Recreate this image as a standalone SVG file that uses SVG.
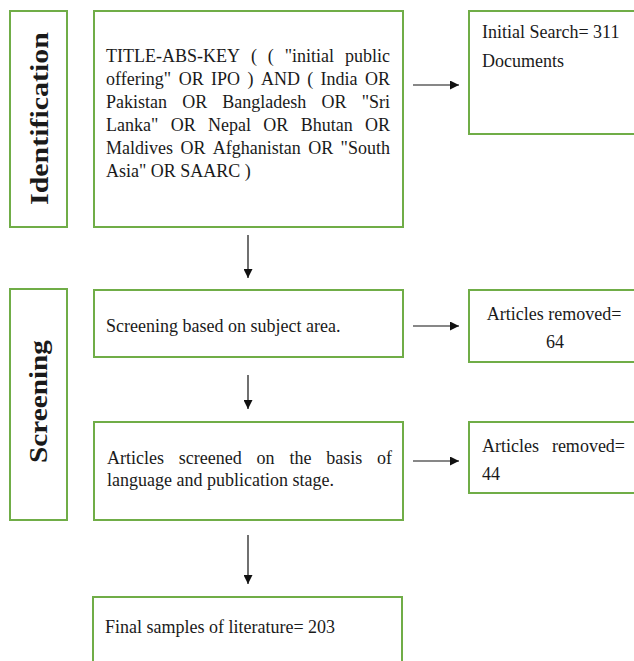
<svg xmlns="http://www.w3.org/2000/svg" width="634" height="661" viewBox="0 0 634 661">
<style>
.box{fill:#fff;stroke:#70AD47;stroke-width:2}
.t{font-family:"Liberation Serif","Times New Roman",serif;font-size:18px;fill:#1a1a1a}
.lab{font-family:"Liberation Serif","Times New Roman",serif;font-size:26px;font-weight:bold;fill:#1a1a1a}
.ar{stroke:#111;stroke-width:1.2;fill:none}
</style>
<defs>
<marker id="ah" viewBox="0 0 10 10" refX="10" refY="5" markerWidth="10" markerHeight="9" markerUnits="userSpaceOnUse" orient="auto">
<path d="M0,0 L10,5 L0,10 Z" fill="#111"/>
</marker>
</defs>
<rect width="634" height="661" fill="#fff"/>
<g id="identification">
<rect class="box" x="10" y="11" width="57" height="216"/>
<text class="lab" transform="translate(48,118.5) rotate(-90)" text-anchor="middle" textLength="173" lengthAdjust="spacingAndGlyphs">Identification</text>
</g>
<g id="query">
<rect class="box" x="94" y="11" width="309" height="216"/>
<text class="t" y="62"><tspan x="106">TITLE-ABS-KEY</tspan><tspan x="250.9">(</tspan><tspan x="267.8">(</tspan><tspan x="284.7">"initial</tspan><tspan x="345">public</tspan></text>
<text class="t" y="85"><tspan x="106">offering"</tspan><tspan x="178.7">OR</tspan><tspan x="211.1">IPO</tspan><tspan x="247.5">)</tspan><tspan x="260.9">AND</tspan><tspan x="307.3">(</tspan><tspan x="320.6">India</tspan><tspan x="365">OR</tspan></text>
<text class="t" y="108"><tspan x="106">Pakistan</tspan><tspan x="182.2">OR</tspan><tspan x="222.3">Bangladesh</tspan><tspan x="321.5">OR</tspan><tspan x="361.7">"Sri</tspan></text>
<text class="t" y="131"><tspan x="106">Lanka"</tspan><tspan x="170.7">OR</tspan><tspan x="208">Nepal</tspan><tspan x="263.3">OR</tspan><tspan x="300.7">Bhutan</tspan><tspan x="365">OR</tspan></text>
<text class="t" y="154"><tspan x="106">Maldives</tspan><tspan x="180.4">OR</tspan><tspan x="212.8">Afghanistan</tspan><tspan x="308.2">OR</tspan><tspan x="340.6">"South</tspan></text>
<text class="t" x="106" y="177">Asia" OR SAARC )</text>
</g>
<g id="initial">
<rect class="box" x="469" y="11" width="180" height="123"/>
<text class="t" x="482" y="38">Initial Search= 311</text>
<text class="t" x="482" y="67">Documents</text>
</g>
<g id="screening">
<rect class="box" x="10" y="289" width="57" height="231"/>
<text class="lab" transform="translate(47,401.5) rotate(-90)" text-anchor="middle" textLength="123" lengthAdjust="spacingAndGlyphs">Screening</text>
</g>
<g id="subject">
<rect class="box" x="94" y="290" width="309" height="67"/>
<text class="t" x="106" y="332">Screening based on subject area.</text>
</g>
<g id="removed64">
<rect class="box" x="469" y="290" width="180" height="72"/>
<text class="t" x="554" y="320" text-anchor="middle">Articles removed=</text>
<text class="t" x="555" y="348" text-anchor="middle">64</text>
</g>
<g id="language">
<rect class="box" x="94" y="422" width="309" height="98"/>
<text class="t" y="464"><tspan x="107">Articles</tspan><tspan x="178.8">screened</tspan><tspan x="256.6">on</tspan><tspan x="289.4">the</tspan><tspan x="326.2">basis</tspan><tspan x="377">of</tspan></text>
<text class="t" x="107" y="486">language and publication stage.</text>
</g>
<g id="removed44">
<rect class="box" x="469" y="422" width="180" height="71"/>
<text class="t" y="452"><tspan x="482">Articles</tspan><tspan x="551.9">removed=</tspan></text>
<text class="t" x="482" y="480">44</text>
</g>
<g id="final">
<rect class="box" x="93" y="597" width="309" height="80"/>
<text class="t" x="105" y="633">Final samples of literature= 203</text>
</g>
<g id="connectors">
<line class="ar" x1="413" y1="85" x2="459" y2="85" marker-end="url(#ah)"/>
<line class="ar" x1="413" y1="326" x2="459" y2="326" marker-end="url(#ah)"/>
<line class="ar" x1="413" y1="461" x2="459" y2="461" marker-end="url(#ah)"/>
<line class="ar" x1="248" y1="235" x2="248" y2="278" marker-end="url(#ah)"/>
<line class="ar" x1="248" y1="375" x2="248" y2="409" marker-end="url(#ah)"/>
<line class="ar" x1="248" y1="535" x2="248" y2="584" marker-end="url(#ah)"/>
</g>
</svg>
